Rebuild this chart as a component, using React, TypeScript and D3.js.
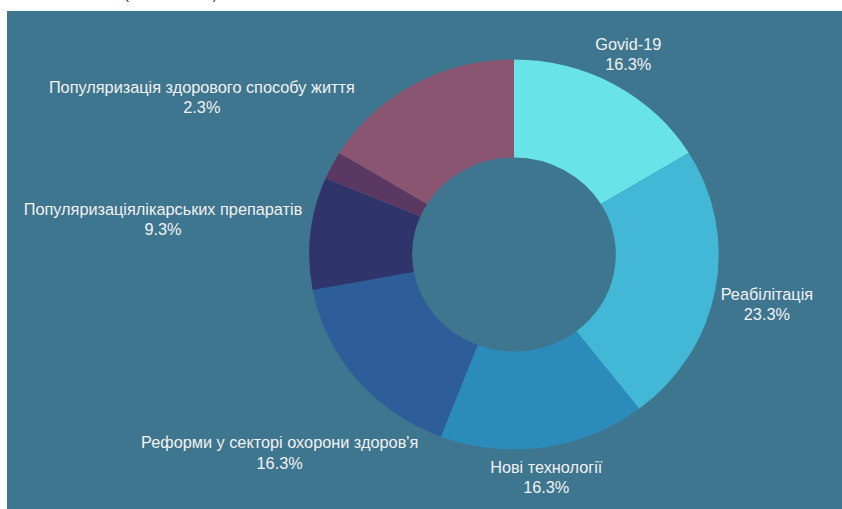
import React, { useEffect, useRef } from 'react';
import * as d3 from 'd3';

const categories = [
  'Govid-19',
  'Реабілітація',
  'Нові технології',
  "Реформи у секторі охорони здоров'я",
  'Популяризаціялікарських препаратів',
  'Популяризація здорового способу життя',
  'Інше',
];
const counts = [7, 10, 7, 7, 4, 1, 7];
const colors = ['#68e3e8', '#42b7d6', '#2b8bba', '#2d5e99', '#2f356a', '#5b3862', '#8a5570'];
// the last slice has no label in the original
const showLabel = [true, true, true, true, true, true, false];

export default function App() {
  const svgRef = useRef<SVGSVGElement>(null);

  useEffect(() => {
    if (!svgRef.current) return;
    drawChart();
  }, []);

  const drawChart = () => {
    const svg = d3.select(svgRef.current);
    svg.selectAll('*').remove();

    const W = 842;
    const H = 509;
    svg.attr('width', W).attr('height', H);

    // cut-off title at the top
    svg
      .append('text')
      .attr('x', 124)
      .attr('y', -1)
      .style('font-family', '"Liberation Sans", Arial, sans-serif')
      .style('font-size', '15px')
      .style('fill', '#333')
      .text('(2020 – 2021)');

    svg
      .append('rect')
      .attr('x', 7)
      .attr('y', 11)
      .attr('width', W - 7)
      .attr('height', H - 11)
      .attr('fill', '#3e758f');

    const cx = 514;
    const cy = 254.5;
    const outer = 195;
    const inner = 97;
    const sx = 1.05; // the picture is a bit wider than tall

    const total = d3.sum(counts);
    const pie = d3
      .pie<number>()
      .sort(null)
      .value((d) => d);
    const arcs = pie(counts);

    const arc = d3.arc<d3.PieArcDatum<number>>().innerRadius(inner).outerRadius(outer);

    const g = svg.append('g').attr('transform', `translate(${cx},${cy}) scale(${sx},1)`);
    g.selectAll('path')
      .data(arcs)
      .enter()
      .append('path')
      .attr('d', arc)
      .attr('fill', (_, i) => colors[i]);

    // Labels
    const lg = svg.append('g');
    const fontSize = 16.3;
    const lineGap = 20.5;
    const pad = 4;
    // the long lower-left label sits a little closer to the ring
    const radialShift = [0, 0, -4, -18, 4, 0, 0];

    arcs.forEach((a, i) => {
      if (!showLabel[i]) return;
      const pct = ((counts[i] / total) * 100).toFixed(1) + '%';
      const t = lg
        .append('text')
        .attr('text-anchor', 'middle')
        .style('font-family', '"Liberation Sans", Arial, sans-serif')
        .style('font-size', fontSize + 'px')
        .style('fill', '#f2f2f2');
      const l1 = t.append('tspan').text(categories[i]);
      const l2 = t.append('tspan').text(pct);
      const w = Math.max(
        (l1.node() as SVGTSpanElement).getComputedTextLength(),
        (l2.node() as SVGTSpanElement).getComputedTextLength()
      );
      const mid = (a.startAngle + a.endAngle) / 2;
      const ux = Math.sin(mid);
      const uy = -Math.cos(mid);
      const R = 1 / Math.sqrt((ux / (outer * sx)) ** 2 + (uy / outer) ** 2);
      const halfH = lineGap * 0.9;
      const dist = R + pad + radialShift[i] + Math.abs(ux) * (w / 2) + Math.abs(uy) * halfH;
      const x = cx + ux * dist;
      const y = cy + uy * dist + 4;
      l1.attr('x', x).attr('y', y - lineGap / 2 + 5);
      l2.attr('x', x).attr('y', y + lineGap / 2 + 5);
    });
  };

  return (
    <svg
      ref={svgRef}
      style={{ position: 'absolute', left: 0, top: 0, display: 'block' }}
    ></svg>
  );
}
